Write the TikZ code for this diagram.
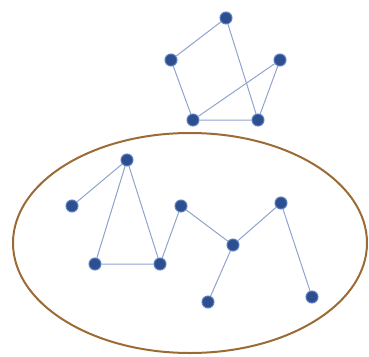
\documentclass[tikz,border=0pt]{standalone}
\definecolor{nodeblue}{HTML}{2E4F8F}
\definecolor{nodeedge}{HTML}{5B7FC0}
\definecolor{edgecol}{HTML}{8FA3CC}
\definecolor{ellcol}{HTML}{9C6B35}
\tikzset{
  vtx/.style={circle, fill=nodeblue, draw=nodeedge, line width=1pt, minimum size=12pt, inner sep=0pt},
  link/.style={draw=edgecol, line width=1pt},
}
\begin{document}
\begin{tikzpicture}[x=1pt,y=-1pt]
\useasboundingbox (0,0) rectangle (369,356);
\draw[ellcol, line width=2pt] (190,243) ellipse [x radius=177, y radius=110];
% top graph
\node[vtx] (t1) at (226,18) {};
\node[vtx] (t2) at (171,60) {};
\node[vtx] (t3) at (280,60) {};
\node[vtx] (t4) at (193,120) {};
\node[vtx] (t5) at (258,120) {};
% lower graph
\node[vtx] (a) at (127,160) {};
\node[vtx] (b) at (72,206) {};
\node[vtx] (c) at (95,264) {};
\node[vtx] (d) at (160,264) {};
\node[vtx] (e) at (181,206) {};
\node[vtx] (f) at (233,245) {};
\node[vtx] (g) at (281,203) {};
\node[vtx] (h) at (208,302) {};
\node[vtx] (i) at (312,297) {};
\path[link] (t1) -- (t2) (t1) -- (t5) (t2) -- (t4) (t4) -- (t5) (t4) -- (t3) (t3) -- (t5);
\path[link] (a) -- (b) (a) -- (c) (a) -- (d) (c) -- (d) (d) -- (e) (e) -- (f) (f) -- (g) (f) -- (h) (g) -- (i);
\end{tikzpicture}
\end{document}
